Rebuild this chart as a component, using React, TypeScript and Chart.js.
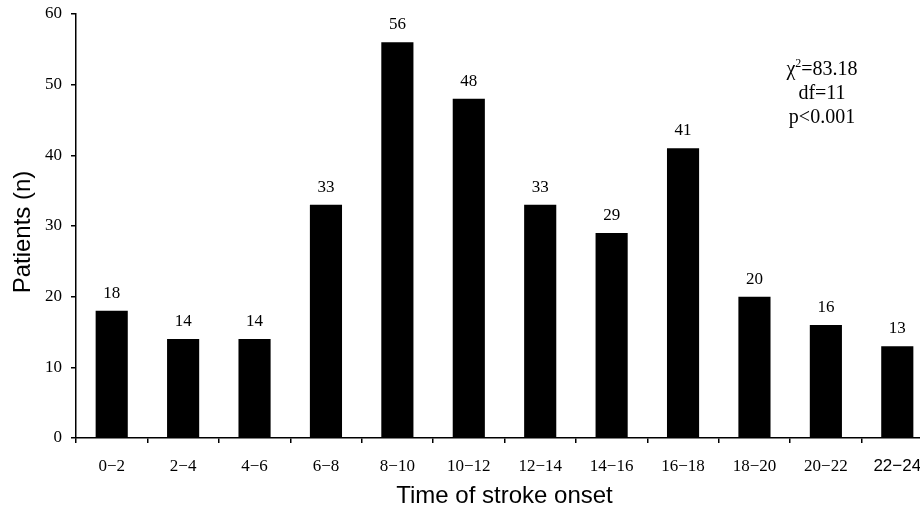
import React, { useEffect, useRef } from "react";
import { Chart, registerables } from "chart.js";

Chart.register(...registerables);

const categories = ["0−2", "2−4", "4−6", "6−8", "8−10", "10−12", "12−14", "14−16", "16−18", "18−20", "20−22", "22−24"];
const patients = [18, 14, 14, 33, 56, 48, 33, 29, 41, 20, 16, 13];
const yMin = 0;
const yMax = 60;
const yStep = 10;
const yTitle = "Patients (n)";
const xTitle = "Time of stroke onset";
const statLines = ["=83.18", "df=11", "p<0.001"];

const SERIF = "'Liberation Serif', 'Times New Roman', serif";
const SANS = "'Liberation Sans', Arial, sans-serif";

const labelPlugin = {
  id: "barLabels",
  afterDatasetsDraw(chart: any) {
    const ctx = chart.ctx;
    const meta = chart.getDatasetMeta(0);
    ctx.save();
    ctx.fillStyle = "#000";
    ctx.font = `17px ${SERIF}`;
    ctx.textAlign = "center";
    ctx.textBaseline = "alphabetic";
    meta.data.forEach((bar: any, i: number) => {
      ctx.fillText(String(patients[i]), bar.x, bar.y - 13);
    });

    // y-axis title (slightly below the axis centre, as in the reference)
    ctx.save();
    ctx.font = `24px ${SANS}`;
    ctx.textBaseline = "middle";
    ctx.translate(23, 232);
    ctx.rotate(-Math.PI / 2);
    ctx.fillText(yTitle, 0, 0);
    ctx.restore();

    // statistics annotation
    const cx = 822;
    const base = [75, 99, 123];
    ctx.font = `20px ${SERIF}`;
    const chi = "χ";
    const sup = "2";
    const rest = statLines[0];
    const wChi = ctx.measureText(chi).width;
    ctx.font = `12px ${SERIF}`;
    const wSup = ctx.measureText(sup).width;
    ctx.font = `20px ${SERIF}`;
    const wRest = ctx.measureText(rest).width;
    const total = wChi + wSup + wRest;
    let x = cx - total / 2;
    ctx.textAlign = "left";
    ctx.fillText(chi, x, base[0]);
    x += wChi;
    ctx.font = `12px ${SERIF}`;
    ctx.fillText(sup, x, base[0] - 8);
    x += wSup;
    ctx.font = `20px ${SERIF}`;
    ctx.fillText(rest, x, base[0]);
    ctx.textAlign = "center";
    ctx.fillText(statLines[1], cx, base[1]);
    ctx.fillText(statLines[2], cx, base[2]);
    ctx.restore();
  },
};

export default function App() {
  const ref = useRef<HTMLCanvasElement | null>(null);

  useEffect(() => {
    if (!ref.current) return;
    const chart = new Chart(ref.current, {
      type: "bar",
      data: {
        labels: categories,
        datasets: [
          {
            data: patients,
            backgroundColor: "#000",
            borderWidth: 0,
            barPercentage: 0.9,
            categoryPercentage: 0.5,
          },
        ],
      },
      options: {
        responsive: false,
        animation: false,
        devicePixelRatio: 1,
        layout: { padding: { left: 0, top: 14, right: 12, bottom: 0 } },
        plugins: {
          legend: { display: false },
          tooltip: { enabled: false },
        },
        scales: {
          x: {
            grid: {
              display: true,
              drawOnChartArea: false,
              drawTicks: true,
              tickLength: 5,
              color: "#000",
              lineWidth: 1.5,
              offset: true,
            },
            border: { display: true, color: "#000", width: 1.5 },
            ticks: {
              color: "#000",
              font: (c: any) => ({
                family: c.index === categories.length - 1 ? SANS : SERIF,
                size: 17,
              }),
              padding: 13,
              maxRotation: 0,
              autoSkip: false,
            },
            title: {
              display: true,
              text: xTitle,
              color: "#000",
              font: { family: SANS, size: 24, lineHeight: 1 },
              padding: { top: 0, bottom: 0 },
            },
            afterFit: (s: any) => {
              s.height = 70;
              s.paddingLeft = 0;
              s.paddingRight = 0;
            },
          },
          y: {
            min: yMin,
            max: yMax,
            grid: {
              display: true,
              drawOnChartArea: false,
              drawTicks: true,
              tickLength: 5,
              color: "#000",
              lineWidth: 1.5,
            },
            border: { display: true, color: "#000", width: 1.5 },
            ticks: {
              stepSize: yStep,
              color: "#000",
              font: { family: SERIF, size: 17 },
              padding: 9,
            },
            title: { display: false },
            afterFit: (s: any) => {
              s.width = 76;
              s.paddingTop = 0;
              s.paddingBottom = 0;
            },
          },
        },
      },
      plugins: [labelPlugin],
    });
    return () => chart.destroy();
  }, []);

  return (
    <div
      style={{
        position: "fixed",
        left: 0,
        top: 0,
        width: 920,
        height: 508,
        overflow: "hidden",
        background: "#fff",
      }}
    >
      <canvas ref={ref} width={945} height={508} style={{ display: "block" }} />
    </div>
  );
}
